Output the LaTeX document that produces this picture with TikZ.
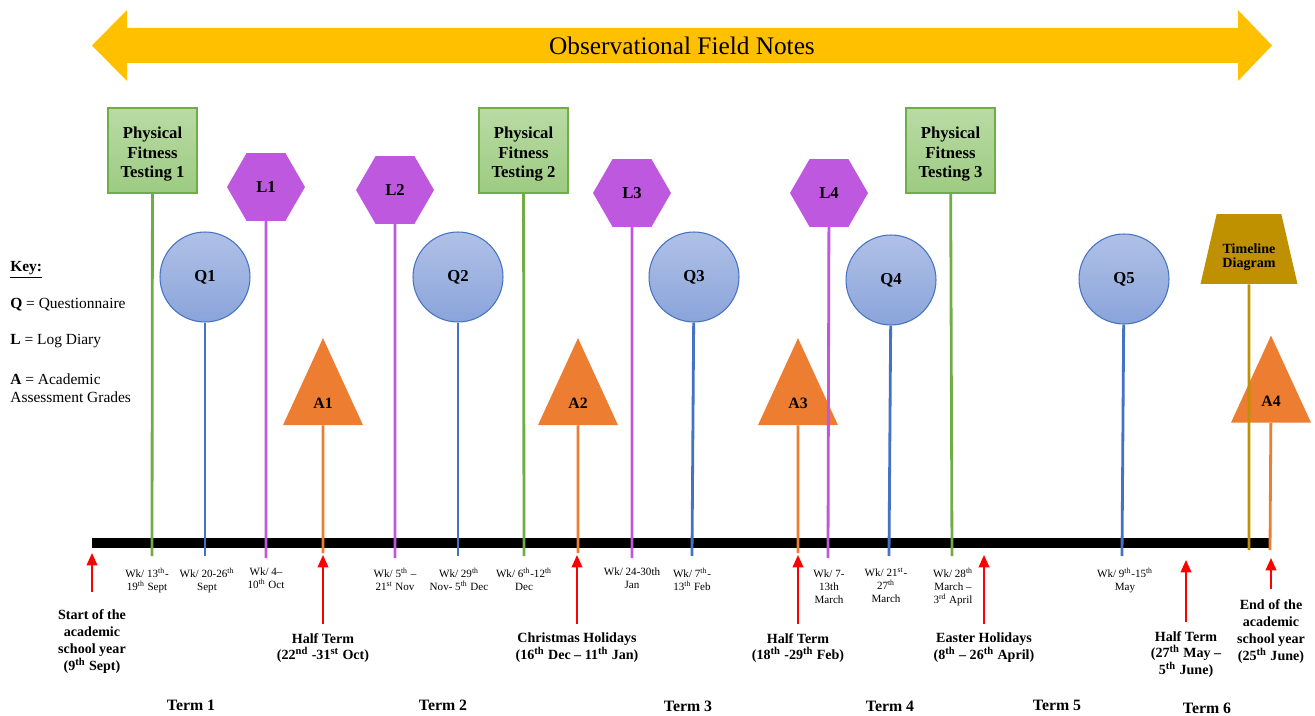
\documentclass[tikz,border=0pt]{standalone}
\usepackage{fontspec}
\setmainfont{Liberation Serif}
\usetikzlibrary{arrows.meta,positioning,shapes.geometric}

\definecolor{notesyellow}{HTML}{FFC000}
\definecolor{pftgreen}{HTML}{70AD47}
\definecolor{pfttop}{HTML}{B9DBA4}
\definecolor{pftbot}{HTML}{9DCB82}
\definecolor{logpurple}{HTML}{BE58DE}
\definecolor{qblue}{HTML}{4472C4}
\definecolor{qtop}{HTML}{B0C1E7}
\definecolor{qbot}{HTML}{8AA4DA}
\definecolor{aorange}{HTML}{ED7D31}
\definecolor{tdgold}{HTML}{BF9000}

\begin{document}
\begin{tikzpicture}[x=0.02cm,y=-0.02cm,>={Triangle[width=6pt,length=7pt]},
  pft/.style={draw=pftgreen,line width=0.6pt,top color=pfttop,bottom color=pftbot,minimum width=1.78cm,minimum height=1.7cm,align=center,inner sep=0pt,font=\fontsize{9.5}{11}\selectfont\bfseries},
  logd/.style={regular polygon,regular polygon sides=6,fill=logpurple,minimum size=1.56cm,inner sep=0pt,font=\fontsize{9.5}{11}\selectfont\bfseries},
  quest/.style={circle,draw=qblue,line width=0.6pt,top color=qtop,bottom color=qbot,minimum size=1.8cm,inner sep=0pt,font=\fontsize{9.5}{11}\selectfont\bfseries},
  acad/.style={isosceles triangle,shape border rotate=90,isosceles triangle stretches,fill=aorange,minimum width=1.6cm,minimum height=1.74cm,inner sep=0pt,font=\fontsize{9}{11}\selectfont\bfseries},
  tdiag/.style={trapezium,trapezium angle=77,fill=tdgold,align=center,inner xsep=3.3pt,inner ysep=7.75pt,font=\fontsize{8}{8}\selectfont\bfseries},
  stem/.style={line width=1.6pt},
  evt/.style={->,red,line width=1.1pt},
  wk/.style={align=center,anchor=north,inner sep=1pt,font=\fontsize{6.3}{7.4}\selectfont},
  evtlabel/.style={align=center,anchor=north,inner xsep=1pt,inner ysep=5pt,font=\fontsize{8}{9.6}\selectfont\bfseries},
  term/.style={font=\fontsize{9}{11}\selectfont\bfseries},
  keytext/.style={anchor=west,align=left,inner sep=0pt,font=\fontsize{8.8}{10.2}\selectfont}]
\useasboundingbox (0,0) rectangle (1315,716);

% banner along the top
\fill[notesyellow] (92,45.5) -- (127,10) -- (127,28) -- (1238,28) -- (1238,10) -- (1272,45.5)
  -- (1238,81) -- (1238,63) -- (127,63) -- (127,81) -- cycle;
\node[font=\fontsize{14.4}{16}\selectfont] (notes) at (682,46) {Observational Field Notes};

% the school year
\coordinate (yearstart) at (92,543);
\coordinate (yearend) at (1270,543);
\draw[line width=5.7pt] (yearstart) -- (yearend);

% key
\node[keytext] (keyhead) at (10,270) {\textbf{\underline{Key:}}};
\node[keytext] (keyq) at (10,305) {\textbf{Q} = Questionnaire};
\node[keytext] (keyl) at (10,341) {\textbf{L} = Log Diary};
\node[keytext] (keya) at (10,388) {\textbf{A} = Academic\\Assessment Grades};

% data collection points
\node[pft] (pft1) at (152.5,150.5) {\rule{0pt}{11pt}Physical\\Fitness\\Testing 1};
\node[pft] (pft2) at (523.5,150.5) {\rule{0pt}{11pt}Physical\\Fitness\\Testing 2};
\node[pft] (pft3) at (950.5,150.5) {\rule{0pt}{11pt}Physical\\Fitness\\Testing 3};
\node[logd] (l1) at (266,187) {L1};
\node[logd] (l2) at (395,190) {L2};
\node[logd] (l3) at (632,193) {L3};
\node[logd] (l4) at (829,193) {L4};
\node[quest] (q1) at (205,277) {Q1};
\node[quest] (q2) at (458,277) {Q2};
\node[quest] (q3) at (694,277) {Q3};
\node[quest] (q4) at (891,280) {Q4};
\node[quest] (q5) at (1124,279) {Q5};
\node[acad] (a1) at (323,403.5) {A1};
\node[acad] (a2) at (578,403.5) {A2};
\node[acad] (a3) at (798,403.5) {A3};
\node[acad] (a4) at (1271,401) {A4};
\node[tdiag] (td) at (1249,249) {\rule{0pt}{14.5pt}Timeline\\Diagram};

% stems down to the year line
\coordinate (pft1end) at (152,556);
\coordinate (pft2end) at (524,556);
\coordinate (pft3end) at (952,556);
\coordinate (l1end) at (266,558);
\coordinate (l2end) at (395,558);
\coordinate (l3end) at (632,558);
\coordinate (l4end) at (828,558);
\coordinate (q1end) at (205,556);
\coordinate (q2end) at (458,556);
\coordinate (q3end) at (692,556);
\coordinate (q4end) at (889,556);
\coordinate (q5end) at (1122,556);
\coordinate (a1end) at (323,553);
\coordinate (a2end) at (578,553);
\coordinate (a3end) at (798,553);
\coordinate (a4end) at (1270,550);
\coordinate (tdend) at (1249,550);
\draw[stem,pftgreen] (pft1) -- (pft1end);
\draw[stem,pftgreen] (pft2) -- (pft2end);
\draw[stem,pftgreen] (pft3) -- (pft3end);
\draw[stem,logpurple] (l1) -- (l1end);
\draw[stem,logpurple] (l2) -- (l2end);
\draw[stem,logpurple] (l3) -- (l3end);
\draw[stem,logpurple] (l4) -- (l4end);
\draw[stem,qblue] (q1) -- (q1end);
\draw[stem,qblue] (q2) -- (q2end);
\draw[stem,qblue] (q3) -- (q3end);
\draw[stem,qblue] (q4) -- (q4end);
\draw[stem,qblue] (q5) -- (q5end);
\draw[stem,aorange] (a1) -- (a1end);
\draw[stem,aorange] (a2) -- (a2end);
\draw[stem,aorange] (a3) -- (a3end);
\draw[stem,aorange] (a4) -- (a4end);
\draw[stem,tdgold] (td) -- (tdend);

% weeks
\node[wk] (wk1) at (147,566) {Wk/ 13\textsuperscript{th}-\\19\textsuperscript{th} Sept};
\node[wk] (wk2) at (207,566) {Wk/ 20-26\textsuperscript{th}\\Sept};
\node[wk] (wk3) at (266,566) {Wk/ 4–\\10\textsuperscript{th} Oct};
\node[wk] (wk4) at (395,566) {Wk/ 5\textsuperscript{th} –\\21\textsuperscript{st} Nov};
\node[wk] (wk5) at (459,566) {Wk/ 29\textsuperscript{th}\\Nov- 5\textsuperscript{th} Dec};
\node[wk] (wk6) at (524,566) {Wk/ 6\textsuperscript{th}-12\textsuperscript{th}\\Dec};
\node[wk] (wk7) at (632,566) {Wk/ 24-30th\\Jan};
\node[wk] (wk8) at (692,566) {Wk/ 7\textsuperscript{th}-\\13\textsuperscript{th} Feb};
\node[wk] (wk9) at (829,568) {Wk/ 7-\\13th\\March};
\node[wk] (wk10) at (886,566) {Wk/ 21\textsuperscript{st}-\\27\textsuperscript{th}\\March};
\node[wk] (wk11) at (953,566) {Wk/ 28\textsuperscript{th}\\March –\\3\textsuperscript{rd} April};
\node[wk] (wk12) at (1125,566) {Wk/ 9\textsuperscript{th}-15\textsuperscript{th}\\May};

% start, holidays and end
\node[evtlabel,inner ysep=10pt] (start) at (92,592) {Start of the\\academic\\school year\\(9\textsuperscript{th} Sept)};
\node[evtlabel] (half1) at (323,624) {Half Term\\(22\textsuperscript{nd} -31\textsuperscript{st} Oct)};
\node[evtlabel] (xmas) at (577,624) {Christmas Holidays\\(16\textsuperscript{th} Dec – 11\textsuperscript{th} Jan)};
\node[evtlabel] (half2) at (798,624) {Half Term\\(18\textsuperscript{th} -29\textsuperscript{th} Feb)};
\node[evtlabel] (easter) at (984,624) {Easter Holidays\\(8\textsuperscript{th} – 26\textsuperscript{th} April)};
\node[evtlabel] (half3) at (1186,622) {Half Term\\(27\textsuperscript{th} May –\\5\textsuperscript{th} June)};
\node[evtlabel,inner ysep=6pt] (finish) at (1271,589) {End of the\\academic\\school year\\(25\textsuperscript{th} June)};
\coordinate (starttip) at (92,553);
\coordinate (half1tip) at (323,555);
\coordinate (xmastip) at (577,555);
\coordinate (half2tip) at (798,555);
\coordinate (eastertip) at (984,555);
\coordinate (half3tip) at (1186,560);
\coordinate (finishtip) at (1271,558);
\draw[evt] (start.north) -- (starttip);
\draw[evt] (half1.north) -- (half1tip);
\draw[evt] (xmas.north) -- (xmastip);
\draw[evt] (half2.north) -- (half2tip);
\draw[evt] (easter.north) -- (eastertip);
\draw[evt] (half3.north) -- (half3tip);
\draw[evt] (finish.north) -- (finishtip);

% terms
\node[term] (term1) at (191,705) {Term 1};
\node[term] (term2) at (443,705) {Term 2};
\node[term] (term3) at (688,706) {Term 3};
\node[term] (term4) at (890,706) {Term 4};
\node[term] (term5) at (1057,705) {Term 5};
\node[term] (term6) at (1207,708) {Term 6};
\end{tikzpicture}
\end{document}
